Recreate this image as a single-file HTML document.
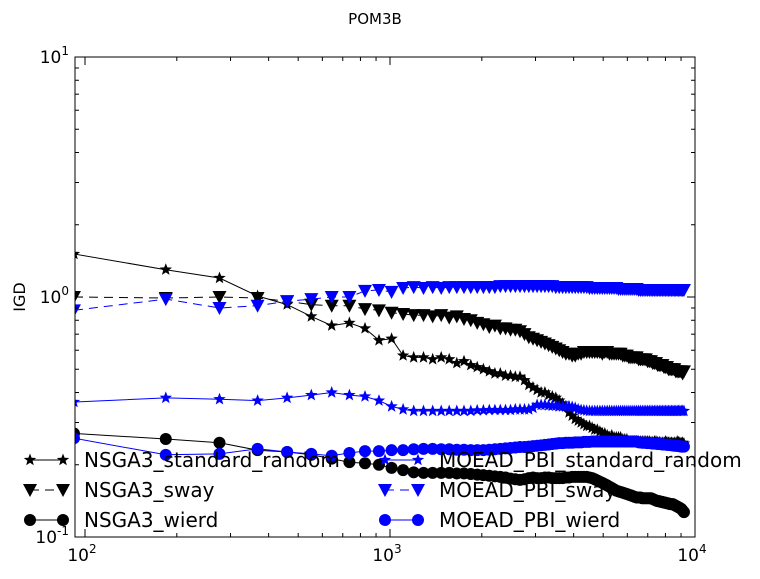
<!DOCTYPE html>
<html><head><meta charset="utf-8"><style>
html,body{margin:0;padding:0;background:#fff;}
svg text{font-family:"DejaVu Sans","Liberation Sans",sans-serif;}
</style></head><body>
<svg id="chart" width="760" height="574" xmlns="http://www.w3.org/2000/svg">
<rect width="760" height="574" fill="#fff"/>
<text x="375" y="24" font-size="15" text-anchor="middle">POM3B</text>
<text transform="translate(25,297) rotate(-90)" font-size="16" text-anchor="middle">IGD</text>
<g id="marks"></g>
<g id="axes"></g>
<g id="legend"></g>
</svg>
<script>
const bs=[1.51,1.30,1.20,1.01,0.93,0.83,0.76,0.78,0.74,0.66,
0.67,0.57,0.56,0.56,0.55,0.56,0.55,0.53,0.54,0.52,
0.51,0.50,0.49,0.48,0.48,0.47,0.47,0.465,0.465,0.45,
0.43,0.42,0.41,0.40,0.40,0.39,0.385,0.38,0.37,0.36,
0.35,0.33,0.32,0.31,0.305,0.30,0.295,0.29,0.29,0.285,
0.28,0.28,0.275,0.27,0.27,0.265,0.26,0.265,0.26,0.26,
0.26,0.26,0.255,0.255,0.255,0.25,0.25,0.25,0.25,0.25,
0.25,0.25,0.25,0.25,0.25,0.25,0.25,0.248,0.248,0.25,
0.25,0.248,0.248,0.247,0.247,0.247,0.25,0.248,0.247,0.247,
0.247,0.246,0.247,0.246,0.25,0.248,0.247,0.246,0.247,0.245];
const bt=[1.00,0.99,1.00,0.99,0.96,0.93,0.92,0.92,0.89,0.88,
0.86,0.85,0.84,0.84,0.83,0.84,0.82,0.83,0.81,0.80,
0.78,0.77,0.75,0.76,0.74,0.74,0.73,0.73,0.72,0.70,
0.68,0.67,0.66,0.65,0.64,0.63,0.62,0.61,0.60,0.59,
0.58,0.58,0.57,0.57,0.58,0.58,0.59,0.59,0.59,0.59,
0.59,0.59,0.59,0.58,0.59,0.59,0.58,0.58,0.58,0.58,
0.58,0.58,0.57,0.57,0.57,0.56,0.56,0.56,0.56,0.56,
0.55,0.55,0.55,0.55,0.55,0.54,0.54,0.54,0.53,0.53,
0.53,0.52,0.52,0.52,0.52,0.51,0.51,0.51,0.50,0.50,
0.50,0.50,0.50,0.49,0.49,0.49,0.49,0.49,0.48,0.49];
const mt=[0.88,0.98,0.90,0.92,0.96,0.98,1.00,1.00,1.06,1.07,
1.05,1.09,1.10,1.09,1.10,1.09,1.10,1.10,1.10,1.10,
1.10,1.10,1.10,1.10,1.11,1.11,1.11,1.11,1.11,1.11,
1.11,1.11,1.11,1.11,1.11,1.11,1.11,1.10,1.10,1.10,
1.10,1.10,1.10,1.10,1.10,1.10,1.10,1.10,1.09,1.09,
1.09,1.09,1.09,1.09,1.09,1.09,1.09,1.09,1.09,1.09,
1.08,1.08,1.08,1.08,1.08,1.08,1.08,1.08,1.08,1.08,
1.07,1.07,1.07,1.07,1.07,1.07,1.07,1.07,1.07,1.07,
1.07,1.07,1.07,1.07,1.07,1.07,1.07,1.07,1.07,1.07,
1.07,1.07,1.07,1.07,1.07,1.07,1.07,1.07,1.07,1.07];
const ms=[0.365,0.38,0.375,0.37,0.38,0.39,0.40,0.39,0.385,0.37,
0.35,0.34,0.335,0.335,0.335,0.335,0.335,0.335,0.335,0.335,
0.337,0.337,0.338,0.338,0.338,0.338,0.338,0.34,0.34,0.34,
0.34,0.345,0.355,0.355,0.355,0.353,0.352,0.352,0.35,0.35,
0.35,0.35,0.348,0.345,0.34,0.338,0.337,0.336,0.335,0.335,
0.335,0.335,0.335,0.335,0.335,0.335,0.335,0.335,0.335,0.335,
0.335,0.335,0.335,0.335,0.335,0.335,0.335,0.335,0.335,0.335,
0.335,0.335,0.335,0.335,0.335,0.335,0.335,0.335,0.335,0.335,
0.335,0.335,0.335,0.335,0.335,0.335,0.335,0.335,0.335,0.335,
0.335,0.335,0.335,0.335,0.335,0.335,0.335,0.335,0.335,0.335];
const bc=[0.27,0.256,0.247,0.23,0.226,0.22,0.212,0.205,0.203,0.20,
0.194,0.19,0.186,0.185,0.185,0.185,0.185,0.184,0.184,0.183,
0.182,0.181,0.18,0.179,0.178,0.177,0.175,0.174,0.173,0.174,
0.176,0.177,0.176,0.176,0.177,0.177,0.176,0.176,0.176,0.176,
0.177,0.177,0.178,0.178,0.178,0.178,0.178,0.178,0.177,0.176,
0.174,0.172,0.17,0.168,0.166,0.164,0.162,0.16,0.158,0.156,
0.155,0.154,0.153,0.152,0.151,0.15,0.149,0.148,0.147,0.146,
0.146,0.146,0.145,0.145,0.145,0.145,0.145,0.145,0.144,0.143,
0.142,0.141,0.141,0.14,0.14,0.139,0.139,0.138,0.138,0.137,
0.137,0.137,0.136,0.135,0.134,0.133,0.132,0.131,0.129,0.127];
const mc=[0.258,0.22,0.222,0.233,0.226,0.222,0.218,0.224,0.228,0.228,
0.23,0.23,0.232,0.233,0.233,0.232,0.232,0.231,0.231,0.23,
0.23,0.23,0.231,0.232,0.233,0.234,0.235,0.236,0.237,0.237,
0.238,0.239,0.24,0.241,0.242,0.243,0.244,0.245,0.246,0.246,
0.247,0.247,0.247,0.248,0.248,0.248,0.249,0.249,0.249,0.25,
0.25,0.25,0.25,0.25,0.25,0.25,0.25,0.25,0.25,0.25,
0.25,0.25,0.25,0.25,0.25,0.25,0.25,0.25,0.25,0.25,
0.248,0.248,0.247,0.247,0.247,0.246,0.246,0.246,0.245,0.245,
0.245,0.244,0.244,0.244,0.243,0.243,0.243,0.242,0.242,0.242,
0.241,0.241,0.24,0.24,0.24,0.239,0.239,0.238,0.238,0.238];
const stepSize=92;
const xTickLabels=["2","3","4"];
const yTickLabels=["-1","0","1"];

const NS="http://www.w3.org/2000/svg";
const L=75,R=695,T=57,B=537;
function xs(v){return 85+(Math.log10(v)-2)*305;}
function ys(v){return 297-Math.log10(v)*240;}
function mk(tag,attrs,parent){const e=document.createElementNS(NS,tag);for(const k in attrs)e.setAttribute(k,attrs[k]);parent.appendChild(e);return e;}
function starPts(cx,cy,r){let p=[];for(let i=0;i<10;i++){const a=-Math.PI/2+i*Math.PI/5;const rr=i%2?r*0.42:r;p.push((cx+rr*Math.cos(a)).toFixed(1)+","+(cy+rr*Math.sin(a)).toFixed(1));}return p.join(" ");}
function marker(type,cx,cy,color,g){
  if(type==="star")return mk("polygon",{points:starPts(cx,cy,6.5),fill:color},g);
  if(type==="tri")return mk("polygon",{points:`${cx-7},${cy-6} ${cx+7},${cy-6} ${cx},${cy+7}`,fill:color},g);
  return mk("circle",{cx:cx,cy:cy,r:6,fill:color},g);
}
const series=[
 {name:"NSGA3_standard_random",data:bs,color:"#000",m:"star",dash:null,id:"nsga3-standard-random"},
 {name:"NSGA3_sway",data:bt,color:"#000",m:"tri",dash:"9,6",id:"nsga3-sway"},
 {name:"NSGA3_wierd",data:bc,color:"#000",m:"circ",dash:null,id:"nsga3-wierd"},
 {name:"MOEAD_PBI_standard_random",data:ms,color:"#0000ff",m:"star",dash:null,id:"moead-pbi-standard-random"},
 {name:"MOEAD_PBI_sway",data:mt,color:"#0000ff",m:"tri",dash:"9,6",id:"moead-pbi-sway"},
 {name:"MOEAD_PBI_wierd",data:mc,color:"#0000ff",m:"circ",dash:null,id:"moead-pbi-wierd"}
];
const svg=document.getElementById("chart");
const defs=mk("defs",{},svg);
const cp=mk("clipPath",{id:"clip"},defs);
mk("rect",{x:L,y:T,width:R-L,height:B-T},cp);
const marks=document.getElementById("marks");
marks.setAttribute("clip-path","url(#clip)");
series.forEach(s=>{
  const g=mk("g",{},marks);
  
  
  const pts=s.data.map((v,i)=>xs((i+1)*stepSize).toFixed(1)+","+ys(v).toFixed(1)).join(" ");
  const line=mk("polyline",{points:pts,fill:"none",stroke:s.color,"stroke-width":1},g);
  if(s.dash)line.setAttribute("stroke-dasharray",s.dash);
  
  
  s.data.forEach((v,i)=>{
    const m=marker(s.m,xs((i+1)*stepSize),ys(v),s.color,g);
    
    
  });
});
const ax=document.getElementById("axes");
const fr=mk("rect",{x:L,y:T,width:R-L,height:B-T,fill:"none",stroke:"#000","stroke-width":1},ax);


for(let d=2;d<=4;d++){
  for(let m=1;m<10;m++){
    const v=Math.pow(10,d)*m; if(v>10000) break;
    const x=xs(v); if(x<L||x>R) continue;
    const len=m===1?8:4;
    mk("line",{x1:x,y1:B,x2:x,y2:B-len,stroke:"#000"},ax);
    mk("line",{x1:x,y1:T,x2:x,y2:T+len,stroke:"#000"},ax);
  }
}
xTickLabels.forEach(e=>{
  const t=mk("text",{x:xs(Math.pow(10,+e))-3,y:561,"font-size":"17","text-anchor":"middle"},ax);
  
  
  t.innerHTML="10<tspan dy='-8' font-size='12'>"+e+"</tspan>";
});
for(let d=-1;d<=0;d++){
  for(let m=1;m<10;m++){
    const v=Math.pow(10,d)*m; const y=ys(v);
    const len=m===1?8:4;
    mk("line",{x1:L,y1:y,x2:L+len,y2:y,stroke:"#000"},ax);
    mk("line",{x1:R,y1:y,x2:R-len,y2:y,stroke:"#000"},ax);
  }
}
yTickLabels.forEach(e=>{
  const t=mk("text",{x:L-6,y:ys(Math.pow(10,+e))+6,"font-size":"17","text-anchor":"end"},ax);
  
  
  t.innerHTML="10<tspan dy='-8' font-size='12'>"+e+"</tspan>";
});
const lg=document.getElementById("legend");


series.forEach((s,i)=>{
  const col=Math.floor(i/3),row=i%3;
  const x0=col?385:30,y=460+row*30;
  const g=mk("g",{},lg);
  
  
  const l=mk("line",{x1:x0,y1:y,x2:x0+33,y2:y,stroke:s.color,"stroke-width":1},g);
  if(s.dash)l.setAttribute("stroke-dasharray","9,6");
  marker(s.m,x0,y,s.color,g);marker(s.m,x0+33,y,s.color,g);
  const t=mk("text",{x:x0+54,y:y+7,"font-size":"20"},g);
  t.textContent=s.name;
});
</script>
</body></html>
